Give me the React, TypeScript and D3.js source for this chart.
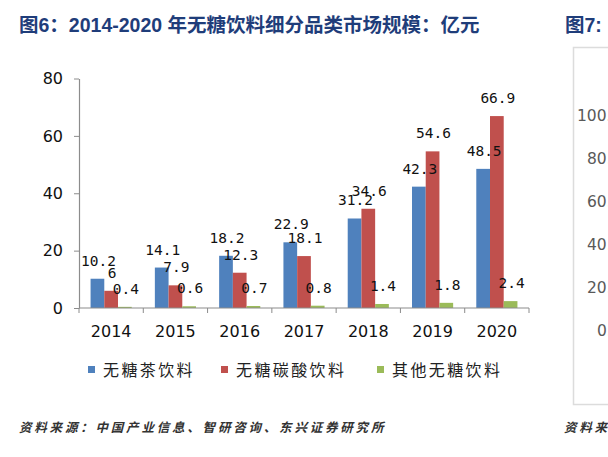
import React, { useEffect, useRef } from "react";
import * as d3 from "d3";

const years = ["2014", "2015", "2016", "2017", "2018", "2019", "2020"];
const seriesNames = ["无糖茶饮料", "无糖碳酸饮料", "其他无糖饮料"];
const teaValues = [10.2, 14.1, 18.2, 22.9, 31.2, 42.3, 48.5];
const sodaValues = [6, 7.9, 12.3, 18.1, 34.6, 54.6, 66.9];
const otherValues = [0.4, 0.6, 0.7, 0.8, 1.4, 1.8, 2.4];
const yTicks = [0, 20, 40, 60, 80];
const sideTicks = ["100.0%", "80.0%", "60.0%", "40.0%", "20.0%", "0.0%"];
const colors = ["#4F81BD", "#C0504D", "#9BBB59"];

const title = "图6：2014-2020 年无糖饮料细分品类市场规模：亿元";
const source = "资料来源：中国产业信息、智研咨询、东兴证券研究所";

export default function App() {
  const ref = useRef<SVGSVGElement>(null);

  useEffect(() => {
    const svg = d3.select(ref.current);
    svg.selectAll("*").remove();
    const W = 608, H = 457;
    svg.append("rect").attr("width", W).attr("height", H).attr("fill", "#fff");

    const titleFont = "'Liberation Sans', 'Noto Sans CJK SC', sans-serif";
    svg.append("text").attr("x", 19).attr("y", 32)
      .attr("font-family", titleFont).attr("font-weight", "bold").attr("font-size", 19.5)
      .attr("fill", "#1F3D7A").text(title);
    svg.append("text").attr("x", 565).attr("y", 32)
      .attr("font-family", titleFont).attr("font-weight", "bold").attr("font-size", 19.5)
      .attr("fill", "#1F3D7A").text("图7:");

    // right neighbouring panel frame
    svg.append("rect").attr("x", 573.5).attr("y", 47.5).attr("width", 60).attr("height", 357)
      .attr("fill", "none").attr("stroke", "#dcdcdc").attr("stroke-width", 1.5);
    const side = d3.scaleLinear().domain([0, sideTicks.length - 1]).range([115, 330]);
    svg.append("g").selectAll("text").data(sideTicks).join("text")
      .attr("x", (d) => 577 + (6 - d.length) * 10)
      .attr("y", (_d, i) => side(i) + 5.5)
      .attr("font-family", "'DejaVu Sans', sans-serif").attr("font-size", 15.5)
      .attr("fill", "#595959").text((d) => d);

    const x0 = d3.scaleBand().domain(years).range([79, 529]).paddingInner(0).paddingOuter(0);
    const bw = x0.bandwidth();
    const x1 = d3.scaleBand().domain(seriesNames).range([bw * 0.18, bw * 0.82]).padding(0);
    const y = d3.scaleLinear().domain([0, 80]).range([308, 78.5]);

    const allSeries = [teaValues, sodaValues, otherValues];

    // axes
    const yAxis = svg.append("g").attr("transform", "translate(79,0)")
      .call(d3.axisLeft(y).tickValues(yTicks).tickSize(5).tickPadding(11).tickSizeOuter(0));
    yAxis.select(".domain").attr("stroke", "#8c8c8c").attr("stroke-width", 1.2);
    yAxis.selectAll(".tick line").attr("stroke", "#8c8c8c");
    yAxis.selectAll("text").attr("font-family", "'DejaVu Sans', sans-serif")
      .attr("font-size", 16).attr("fill", "#111");

    // bars
    allSeries.forEach((vals, si) => {
      svg.append("g").selectAll("rect").data(vals).join("rect")
        .attr("x", (_d, i) => (x0(years[i]) as number) + (x1(seriesNames[si]) as number))
        .attr("y", (d) => y(d))
        .attr("width", x1.bandwidth())
        .attr("height", (d) => y(0) - y(d))
        .attr("fill", colors[si]);
    });

    const xAxis = svg.append("g").attr("transform", "translate(0,308)");
    xAxis.append("line").attr("x1", 79).attr("x2", 529).attr("stroke", "#8c8c8c").attr("stroke-width", 1.2);
    const bounds = years.map((yr) => x0(yr) as number).concat([529]);
    xAxis.selectAll("line.tk").data(bounds).join("line").attr("class", "tk")
      .attr("x1", (d) => d).attr("x2", (d) => d).attr("y1", 0).attr("y2", 5)
      .attr("stroke", "#8c8c8c");
    xAxis.selectAll("text").data(years).join("text")
      .attr("x", (d) => (x0(d) as number) + bw / 2).attr("y", 29)
      .attr("text-anchor", "middle")
      .attr("font-family", "'DejaVu Sans', sans-serif").attr("font-size", 16)
      .attr("fill", "#111").text((d) => d);

    // data labels
    allSeries.forEach((vals, si) => {
      svg.append("g").selectAll("text").data(vals).join("text")
        .attr("x", (_d, i) => (x0(years[i]) as number) + (x1(seriesNames[si]) as number) + x1.bandwidth() / 2 + 1)
        .attr("y", (d) => y(d) - 13)
        .attr("text-anchor", "middle")
        .attr("font-family", "'DejaVu Sans Mono', monospace").attr("font-size", 14.5)
        .attr("fill", "#111").text((d) => String(d));
    });

    // legend
    const legendX = [88, 221, 377];
    const lg = svg.append("g");
    seriesNames.forEach((name, i) => {
      lg.append("rect").attr("x", legendX[i]).attr("y", 366).attr("width", 7).attr("height", 7)
        .attr("fill", colors[i]);
      lg.append("text").attr("x", legendX[i] + 15).attr("y", 376)
        .attr("font-family", "'Noto Sans CJK SC', sans-serif").attr("font-size", 16)
        .attr("letter-spacing", 2.4).attr("fill", "#222").text(name);
    });

    // source
    svg.append("text").attr("x", 19).attr("y", 432)
      .attr("font-family", "'Noto Sans CJK SC', sans-serif").attr("font-size", 12.5)
      .attr("font-style", "italic").attr("font-weight", "bold")
      .attr("letter-spacing", 2.8).attr("fill", "#333").text(source);
    svg.append("text").attr("x", 564).attr("y", 432)
      .attr("font-family", "'Noto Sans CJK SC', sans-serif").attr("font-size", 12.5)
      .attr("font-style", "italic").attr("font-weight", "bold")
      .attr("letter-spacing", 2.8).attr("fill", "#333").text("资料来源");
  }, []);

  return (
    <svg ref={ref} width={608} height={457}
      style={{ position: "absolute", left: 0, top: 0, display: "block" }} />
  );
}
